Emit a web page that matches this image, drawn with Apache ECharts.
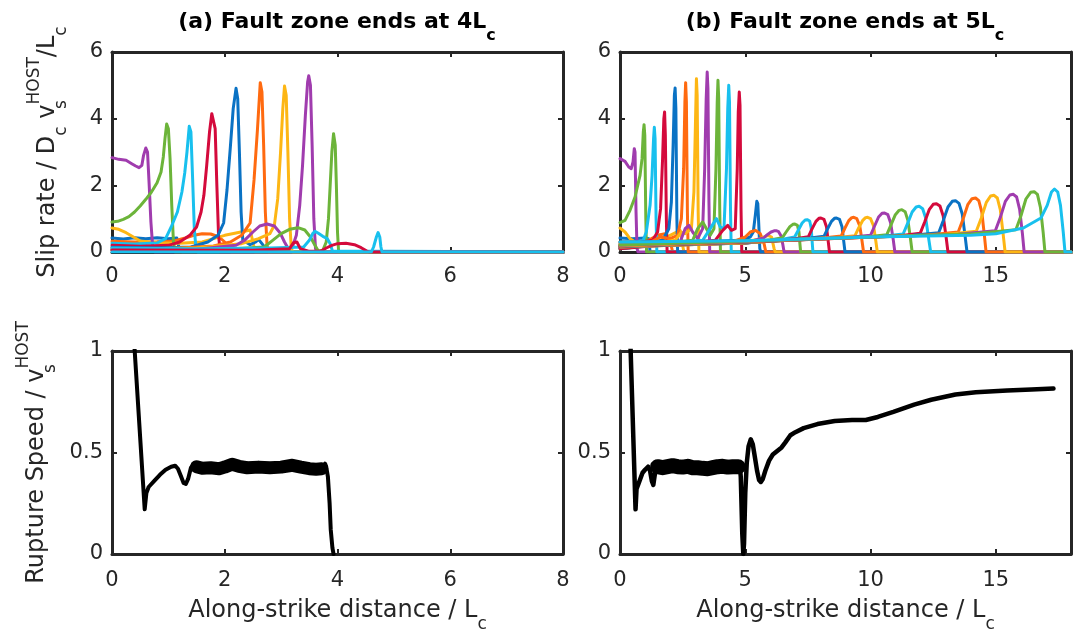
<!DOCTYPE html>
<html>
<head>
<meta charset="utf-8">
<script src="https://cdn.jsdelivr.net/npm/echarts@6/dist/echarts.min.js"></script>
<style>
  html, body { margin: 0; padding: 0; background: #fff; }
  #chart { width: 1081px; height: 632px; }
</style>
</head>
<body>
<div id="chart"></div>
<script>
// colours (matlab default order, a bit brighter like the picture)
const BLUE = '#0A72C4', ORANGE = '#FF6A10', YELLOW = '#FDB614', PURPLE = '#A03CAE',
  GREEN = '#6CB43A', CYAN = '#18C0EE', RED = '#D40A3C';
const INK = '#262626';
const FONT = 'DejaVu Sans, Liberation Sans, sans-serif';

// ---- (a) slip rate snapshots, fault zone ends at 4Lc ----
const slipA01 = [[0,0.42],[0.2,0.39],[0.4,0.43],[0.6,0.4],[0.8,0.43],[1.0,0.4],[1.15,0.42],[1.2,0.05],[1.25,0],[8,0]];
const slipA02 = [[0,0.32],[0.4,0.3],[0.8,0.31],[1.1,0.33],[1.3,0.42],[1.45,0.5],[1.6,0.55],[1.75,0.54],[1.9,0.45],[2.0,0.3],[2.08,0.05],[2.12,0],[8,0]];
const slipA03 = [[0,0.72],[0.12,0.68],[0.25,0.58],[0.38,0.45],[0.5,0.33],[0.8,0.28],[1.2,0.26],[1.6,0.3],[1.8,0.4],[2.0,0.5],[2.2,0.57],[2.35,0.62],[2.45,0.66],[2.5,0.3],[2.54,0],[8,0]];
const slipA04 = [[0,2.83],[0.12,2.78],[0.25,2.75],[0.35,2.65],[0.42,2.58],[0.48,2.53],[0.53,2.6],[0.56,2.9],[0.6,3.12],[0.63,3.0],[0.66,2.0],[0.69,0.9],[0.72,0.2],[0.76,0],[8,0]];
const slipA05 = [[0,0.9],[0.1,0.92],[0.2,0.98],[0.3,1.06],[0.4,1.2],[0.5,1.38],[0.6,1.58],[0.7,1.8],[0.8,2.08],[0.87,2.4],[0.91,2.85],[0.94,3.4],[0.97,3.84],[1.0,3.7],[1.03,2.8],[1.06,1.4],[1.09,0.3],[1.12,0],[8,0]];
const slipA06 = [[0,0.26],[0.4,0.24],[0.8,0.27],[0.95,0.4],[1.05,0.75],[1.16,1.2],[1.24,1.8],[1.29,2.37],[1.33,3.0],[1.37,3.77],[1.4,3.6],[1.43,2.2],[1.46,0.7],[1.49,0.1],[1.52,0],[8,0]];
const slipA07 = [[0,0.2],[0.5,0.17],[1.0,0.2],[1.2,0.3],[1.38,0.5],[1.5,0.75],[1.58,1.2],[1.63,1.7],[1.68,2.6],[1.73,3.6],[1.77,4.15],[1.8,4.2],[1.83,3.7],[1.86,2.0],[1.89,0.5],[1.92,0],[8,0]];
const slipA08 = [[0,0.14],[0.8,0.12],[1.4,0.15],[1.7,0.3],[1.88,0.5],[1.98,0.87],[2.04,1.86],[2.1,3.16],[2.15,4.3],[2.2,4.91],[2.23,4.6],[2.26,3.0],[2.29,1.2],[2.32,0.35],[2.45,0.22],[2.55,0.3],[2.6,0.38],[2.66,0.25],[2.75,0.05],[2.8,0],[8,0]];
const slipA09 = [[0,0.1],[1.0,0.1],[1.8,0.18],[2.1,0.3],[2.3,0.5],[2.45,0.87],[2.52,2.17],[2.58,3.67],[2.63,5.08],[2.66,4.8],[2.69,3.2],[2.72,1.2],[2.75,0.2],[2.78,0],[8,0]];
const slipA10 = [[0,0.08],[1.5,0.12],[2.3,0.25],[2.6,0.4],[2.8,0.55],[2.88,0.8],[2.94,1.6],[2.99,3.0],[3.03,4.3],[3.06,4.98],[3.09,4.7],[3.12,3.0],[3.15,1.0],[3.18,0.1],[3.21,0],[8,0]];
const slipA11 = [[0,0.06],[1.5,0.08],[2.2,0.2],[2.35,0.35],[2.5,0.6],[2.62,0.78],[2.75,0.84],[2.88,0.78],[2.98,0.58],[3.06,0.3],[3.12,0.12],[3.2,0.15],[3.27,0.5],[3.33,1.4],[3.38,2.6],[3.43,4.1],[3.47,5.1],[3.49,5.29],[3.52,5.0],[3.55,3.2],[3.58,1.0],[3.61,0.1],[3.64,0],[8,0]];
const slipA12 = [[0,0.05],[2.0,0.08],[2.7,0.15],[2.85,0.35],[3.0,0.55],[3.15,0.68],[3.3,0.73],[3.42,0.66],[3.52,0.45],[3.6,0.2],[3.66,0.03],[3.74,0.05],[3.8,0.3],[3.84,1.0],[3.87,2.0],[3.9,3.0],[3.93,3.55],[3.96,3.2],[3.98,2.0],[4.0,0.6],[4.02,0],[8,0]];
const slipA13 = [[0,0.12],[1.5,0.1],[2.8,0.12],[3.4,0.15],[3.5,0.35],[3.56,0.55],[3.6,0.62],[3.66,0.56],[3.74,0.47],[3.82,0.4],[3.87,0.25],[3.91,0.03],[3.94,0],[8,0]];
const slipA14 = [[0,0.06],[2.5,0.05],[3.15,0.1],[3.22,0.28],[3.28,0.3],[3.34,0.1],[3.5,0.02],[3.7,0.02],[3.8,0.12],[3.9,0.2],[4.0,0.25],[4.15,0.26],[4.3,0.22],[4.42,0.13],[4.52,0.03],[4.56,0],[8,0]];
const slipA15 = [[0,0],[4.6,0],[4.64,0.15],[4.69,0.45],[4.72,0.58],[4.75,0.45],[4.77,0.15],[4.79,0],[8,0]];

const slipACurves = [slipA01, slipA02, slipA03, slipA04, slipA05, slipA06, slipA07, slipA08,
  slipA09, slipA10, slipA11, slipA12, slipA13, slipA14, slipA15];
const slipAColors = [BLUE, ORANGE, YELLOW, PURPLE, GREEN, CYAN, RED, BLUE,
  ORANGE, YELLOW, PURPLE, GREEN, CYAN, RED, CYAN];

// ---- (b) slip rate snapshots, fault zone ends at 5Lc ----
const slipB01 = [[0,0.42],[0.5,0.4],[1.0,0.42],[1.15,0.4],[1.2,0],[18,0]];
const slipB02 = [[0,0.3],[1.0,0.3],[1.5,0.5],[1.8,0.55],[2.0,0.35],[2.1,0],[18,0]];
const slipB03 = [[0,0.72],[0.2,0.6],[0.4,0.4],[0.6,0.3],[1.5,0.3],[2.0,0.5],[2.4,0.65],[2.5,0.2],[2.55,0],[18,0]];
const slipB04 = [[0,2.8],[0.2,2.72],[0.35,2.55],[0.45,2.5],[0.52,2.7],[0.57,3.1],[0.6,3.0],[0.64,1.2],[0.68,0.1],[0.72,0],[18,0]];
const slipB05 = [[0,0.88],[0.2,0.95],[0.4,1.25],[0.6,1.65],[0.8,2.3],[0.88,2.8],[0.93,3.6],[0.96,3.82],[0.99,3.5],[1.03,1.0],[1.06,0],[18,0]];
const slipB06 = [[0,0.25],[0.9,0.3],[1.05,0.6],[1.2,1.4],[1.28,2.3],[1.34,3.4],[1.37,3.74],[1.4,3.4],[1.44,1.0],[1.47,0],[18,0]];
const slipB07 = [[0,0.18],[1.3,0.35],[1.5,0.6],[1.62,1.3],[1.7,2.8],[1.75,4.0],[1.78,4.2],[1.81,3.5],[1.85,1.0],[1.88,0],[18,0]];
const slipB08 = [[0,0.15],[1.7,0.35],[1.95,0.7],[2.05,1.5],[2.12,3.2],[2.17,4.7],[2.2,4.92],[2.23,4.3],[2.27,1.0],[2.3,0],[18,0]];
const slipB09 = [[0,0.12],[1.0,0.2],[1.6,0.45],[2.0,0.4],[2.3,0.5],[2.45,1.0],[2.54,2.5],[2.59,4.5],[2.62,5.08],[2.65,4.5],[2.69,1.2],[2.72,0],[18,0]];
const slipB10 = [[0,0.1],[2.2,0.35],[2.45,0.6],[2.6,0.55],[2.85,0.7],[2.95,1.8],[3.01,3.8],[3.05,5.2],[3.08,4.7],[3.12,1.2],[3.15,0],[18,0]];
const slipB11 = [[0,0.1],[2.4,0.3],[2.6,0.7],[2.75,0.8],[2.9,0.6],[3.1,0.4],[3.3,0.7],[3.38,2.5],[3.44,4.6],[3.48,5.4],[3.51,4.9],[3.55,1.5],[3.58,0],[18,0]];
const slipB12 = [[0,0.1],[2.9,0.35],[3.1,0.7],[3.3,0.9],[3.45,0.7],[3.6,0.5],[3.75,0.7],[3.83,2.5],[3.88,4.5],[3.91,5.15],[3.94,4.6],[3.98,1.3],[4.01,0],[18,0]];
const slipB13 = [[0,0.1],[3.3,0.35],[3.6,0.7],[3.85,1.0],[4.0,0.75],[4.15,0.7],[4.25,2.5],[4.3,4.3],[4.34,5.0],[4.37,4.5],[4.41,1.3],[4.44,0],[18,0]];
const slipB14 = [[0,0.1],[3.8,0.35],[4.1,0.65],[4.3,0.8],[4.45,0.65],[4.6,0.7],[4.68,2.5],[4.72,4.2],[4.76,4.8],[4.79,4.4],[4.83,1.3],[4.86,0],[18,0]];
const slipB15 = [[0,0.3],[3,0.3],[4.8,0.35],[5.2,0.45],[5.32,0.6],[5.4,1.1],[5.46,1.52],[5.5,1.45],[5.54,0.8],[5.58,0.1],[5.62,0],[18,0]];
const slipB16 = [[0,0.25],[4.5,0.3],[5.0,0.45],[5.2,0.6],[5.4,0.65],[5.6,0.55],[5.75,0.25],[5.82,0],[18,0]];
const slipB17 = [[0,0.22],[5,0.3],[5.6,0.4],[5.9,0.5],[6.05,0.45],[6.15,0.1],[6.2,0],[18,0]];
const slipB18 = [[0,0.2],[5,0.28],[5.73,0.42],[5.88,0.52],[6.03,0.6],[6.15,0.635],[6.23,0.64],[6.33,0.61],[6.43,0.48],[6.5,0.22],[6.55,0],[18,0]];
const slipB19 = [[0,0.2],[5,0.27],[6.0,0.36],[6.48,0.43],[6.63,0.6],[6.78,0.76],[6.9,0.83],[6.98,0.84],[7.08,0.8],[7.14,0.62],[7.18,0.25],[7.21,0],[18,0]];
const slipB20 = [[0,0.18],[5,0.27],[6.5,0.38],[6.97,0.45],[7.12,0.66],[7.27,0.87],[7.39,0.96],[7.47,0.97],[7.57,0.93],[7.63,0.72],[7.67,0.3],[7.7,0],[18,0]];
const slipB21 = [[0,0.17],[5,0.27],[7.0,0.4],[7.52,0.46],[7.67,0.7],[7.82,0.92],[7.94,1.01],[8.02,1.02],[8.14,0.98],[8.24,0.76],[8.31,0.32],[8.36,0],[18,0]];
const slipB22 = [[0,0.16],[5,0.27],[7.6,0.42],[8.14,0.47],[8.29,0.7],[8.44,0.92],[8.56,1.01],[8.64,1.02],[8.76,0.98],[8.86,0.76],[8.93,0.32],[8.98,0],[18,0]];
const slipB23 = [[0,0.15],[5,0.28],[8.2,0.43],[8.83,0.48],[8.98,0.72],[9.13,0.94],[9.25,1.03],[9.33,1.04],[9.45,1.0],[9.57,0.78],[9.66,0.33],[9.72,0],[18,0]];
const slipB24 = [[0,0.15],[5,0.28],[8.8,0.44],[9.38,0.49],[9.53,0.73],[9.68,0.94],[9.8,1.03],[9.88,1.04],[10.0,1.0],[10.12,0.78],[10.21,0.33],[10.27,0],[18,0]];
const slipB25 = [[0,0.15],[5,0.29],[9.3,0.45],[10.0,0.5],[10.16,0.78],[10.32,1.05],[10.46,1.16],[10.56,1.17],[10.69,1.12],[10.8,0.88],[10.9,0.4],[10.97,0],[18,0]];
const slipB26 = [[0,0.16],[5,0.29],[9.9,0.46],[10.65,0.52],[10.82,0.82],[10.99,1.12],[11.14,1.25],[11.25,1.27],[11.38,1.21],[11.49,0.95],[11.59,0.42],[11.66,0],[18,0]];
const slipB27 = [[0,0.17],[5,0.3],[10.5,0.47],[11.3,0.54],[11.48,0.86],[11.66,1.2],[11.82,1.35],[11.94,1.37],[12.08,1.3],[12.2,1.02],[12.31,0.45],[12.4,0],[18,0]];
const slipB28 = [[0,0.17],[5,0.3],[11.1,0.48],[11.98,0.56],[12.16,0.9],[12.34,1.27],[12.5,1.43],[12.63,1.45],[12.77,1.38],[12.9,1.08],[13.01,0.48],[13.09,0],[18,0]];
const slipB29 = [[0,0.18],[5,0.31],[11.7,0.5],[12.72,0.58],[12.9,0.94],[13.09,1.35],[13.26,1.52],[13.39,1.54],[13.53,1.46],[13.66,1.14],[13.77,0.5],[13.85,0],[18,0]];
const slipB30 = [[0,0.18],[5,0.31],[12.3,0.51],[13.5,0.6],[13.69,0.98],[13.88,1.42],[14.05,1.6],[14.19,1.62],[14.32,1.54],[14.44,1.2],[14.54,0.52],[14.61,0],[18,0]];
const slipB31 = [[0,0.19],[5,0.32],[12.9,0.52],[14.22,0.62],[14.42,1.02],[14.62,1.49],[14.79,1.68],[14.93,1.7],[15.06,1.62],[15.18,1.26],[15.29,0.55],[15.37,0],[18,0]];
const slipB32 = [[0,0.2],[5,0.32],[13.5,0.53],[14.98,0.64],[15.18,1.04],[15.38,1.52],[15.56,1.71],[15.7,1.73],[15.83,1.65],[15.95,1.28],[16.06,0.56],[16.13,0],[18,0]];
const slipB33 = [[0,0.21],[5,0.33],[14.1,0.55],[15.8,0.67],[16.0,1.08],[16.2,1.59],[16.39,1.79],[16.53,1.81],[16.66,1.73],[16.78,1.34],[16.89,0.58],[16.96,0],[18,0]];
const slipB34 = [[0,0.3],[5,0.34],[10,0.45],[14,0.5],[15,0.55],[16.1,0.72],[16.8,1.02],[17.05,1.4],[17.22,1.8],[17.34,1.89],[17.47,1.8],[17.58,1.4],[17.69,0.6],[17.76,0],[18,0]];

const slipBCurves = [slipB01, slipB02, slipB03, slipB04, slipB05, slipB06, slipB07, slipB08, slipB09,
  slipB10, slipB11, slipB12, slipB13, slipB14, slipB15, slipB16, slipB17, slipB18, slipB19, slipB20,
  slipB21, slipB22, slipB23, slipB24, slipB25, slipB26, slipB27, slipB28, slipB29, slipB30, slipB31,
  slipB32, slipB33, slipB34];
const cycle = [BLUE, ORANGE, YELLOW, PURPLE, GREEN, CYAN, RED];

// ---- rupture speed / vs (line + noisy band drawn as a fat line) ----
const ruptureA = [[0.38,1.1],[0.58,0.22],[0.61,0.3],[0.65,0.33],[0.75,0.36],[0.85,0.39],[0.95,0.415],[1.05,0.43],
  [1.12,0.435],[1.17,0.42],[1.22,0.385],[1.27,0.35],[1.31,0.345],[1.35,0.37],[1.4,0.425],[1.45,0.44],
  [1.5,0.43],[3.7,0.42],[3.75,0.43],[3.78,0.445],[3.8,0.43],[3.83,0.38],[3.86,0.25],[3.88,0.12],[3.91,0.03],[3.93,0]];
const ruptureABand = [[1.5,0.43],[1.6,0.422],[1.75,0.425],[1.9,0.42],[2.0,0.428],[2.13,0.442],[2.25,0.432],
  [2.4,0.425],[2.6,0.428],[2.8,0.425],[3.0,0.428],[3.2,0.437],[3.35,0.428],[3.5,0.42],[3.62,0.418],[3.72,0.42]];
const ruptureB = [[0.4,1.1],[0.62,0.22],[0.66,0.32],[0.75,0.35],[0.9,0.4],[1.0,0.415],[1.12,0.43],[1.2,0.41],
  [1.27,0.36],[1.33,0.34],[1.4,0.4],[1.47,0.44],[1.5,0.43],[4.7,0.43],[4.78,0.44],
  [4.82,0.38],[4.88,0.1],[4.92,0],[4.95,0.05],[5.0,0.3],[5.06,0.45],[5.13,0.53],[5.22,0.565],[5.3,0.54],
  [5.38,0.48],[5.47,0.41],[5.55,0.365],[5.62,0.355],[5.7,0.37],[5.8,0.41],[5.95,0.46],[6.1,0.49],[6.3,0.51],
  [6.45,0.525],[6.6,0.55],[6.8,0.585],[7.0,0.6],[7.33,0.62],[7.88,0.64],[8.57,0.655],[9.26,0.66],[9.81,0.66],
  [10.29,0.675],[10.91,0.7],[11.74,0.736],[12.42,0.76],[13.39,0.786],[14.2,0.797],[15.45,0.806],[16.42,0.81],
  [17.3,0.815]];
const ruptureBBand = [[1.5,0.43],[1.7,0.425],[1.9,0.43],[2.1,0.435],[2.3,0.43],[2.5,0.428],[2.7,0.432],[2.9,0.425],
  [3.1,0.425],[3.3,0.422],[3.5,0.42],[3.7,0.425],[3.9,0.43],[4.1,0.432],[4.3,0.428],[4.5,0.43],[4.72,0.43]];

// axis ranges per panel: a-top, b-top, a-bottom, b-bottom
const xMax = [8, 18, 8, 18];
const xStep = [2, 5, 2, 5];
const yMax = [6, 6, 1, 1];
const yStep = [2, 2, 0.5, 0.5];
const titles = ['(a) Fault zone ends at 4L{sub|c}', '(b) Fault zone ends at 5L{sub|c}'];

const grids = [
  { left: 112, top: 52, width: 451, height: 200 },
  { left: 620, top: 52, width: 451, height: 200 },
  { left: 112, top: 351, width: 451, height: 203 },
  { left: 620, top: 351, width: 451, height: 203 }
].map(g => Object.assign({ containLabel: false, outerBoundsMode: 'none' }, g));

const subStyle = { fontSize: 17, lineHeight: 14, verticalAlign: 'bottom', color: INK, fontFamily: FONT };
const nameStyle = {
  fontSize: 24, lineHeight: 44, color: INK, fontFamily: FONT,
  rich: {
    sub: subStyle,
    subz: Object.assign({}, subStyle, { width: 0 }),
    sup: { fontSize: 17, lineHeight: 22, verticalAlign: 'top', color: INK, fontFamily: FONT }
  }
};

function frame(i, isX, pos) {
  const ax = {
    type: 'value', gridIndex: i, position: pos,
    min: 0, max: isX ? xMax[i] : yMax[i], interval: isX ? xStep[i] : yStep[i],
    axisLine: { show: true, onZero: false, lineStyle: { color: INK, width: 3 } },
    axisTick: { show: true, inside: true, length: 5, lineStyle: { color: INK, width: 2 } },
    axisLabel: { show: false },
    splitLine: { show: false },
    nameMoveOverlap: false
  };
  if (pos === 'bottom' || pos === 'left') {
    ax.axisLabel = {
      show: true, fontSize: 21, color: INK, fontFamily: FONT,
      margin: isX ? (i < 2 ? 14 : 16) : 9,
      showMaxLabel: isX ? xMax[i] % xStep[i] === 0 : true
    };
  }
  return ax;
}

const xAxes = [], yAxes = [];
for (let i = 0; i < 4; i++) {
  const bottom = frame(i, true, 'bottom');
  if (i >= 2) {
    bottom.name = 'Along-strike distance / L{sub|c}';
    bottom.nameLocation = 'middle';
    bottom.nameGap = 35;
    bottom.nameTextStyle = nameStyle;
  }
  xAxes.push(bottom, frame(i, true, 'top'));
  const left = frame(i, false, 'left');
  if (i === 0) {
    left.name = 'Slip rate / D{sub|c} v{subz|s}{sup|HOST}/L{sub|c}';
    left.nameGap = 42;
  } else if (i === 2) {
    left.name = 'Rupture Speed / v{subz|s}{sup|HOST}';
    left.nameGap = 53;
  }
  if (left.name) {
    left.nameLocation = 'middle';
    left.nameRotate = 90;
    left.nameTextStyle = nameStyle;
  }
  yAxes.push(left, frame(i, false, 'right'));
}

function lineSeries(data, color, panel, width) {
  return {
    type: 'line', data: data, xAxisIndex: panel * 2, yAxisIndex: panel * 2,
    showSymbol: false, symbol: 'none', silent: true, clip: true,
    lineStyle: { color: color, width: width, join: 'round', cap: 'round' },
    itemStyle: { color: color }
  };
}

const series = [];
slipACurves.forEach((c, k) => series.push(lineSeries(c, slipAColors[k], 0, 3)));
slipBCurves.forEach((c, k) => series.push(lineSeries(c, cycle[k % 7], 1, 3)));
series.push(lineSeries(ruptureA, '#000', 2, 4));
series.push(lineSeries(ruptureABand, '#000', 2, 13));
series.push(lineSeries(ruptureB, '#000', 3, 4.5));
series.push(lineSeries(ruptureBBand, '#000', 3, 15));

const chart = echarts.init(document.getElementById('chart'), null, { renderer: 'canvas' });
chart.setOption({
  animation: false,
  backgroundColor: '#fff',
  title: titles.map((t, k) => ({
    text: t,
    left: k === 0 ? 337 : 845,
    top: 0,
    textAlign: 'center',
    padding: 0,
    textStyle: {
      fontSize: 22, fontWeight: 'bold', lineHeight: 44, color: '#000', fontFamily: FONT,
      rich: { sub: { fontSize: 16, fontWeight: 'bold', lineHeight: 14, verticalAlign: 'bottom', color: '#000', fontFamily: FONT } }
    }
  })),
  grid: grids,
  xAxis: xAxes,
  yAxis: yAxes,
  series: series
});
</script>
</body>
</html>
